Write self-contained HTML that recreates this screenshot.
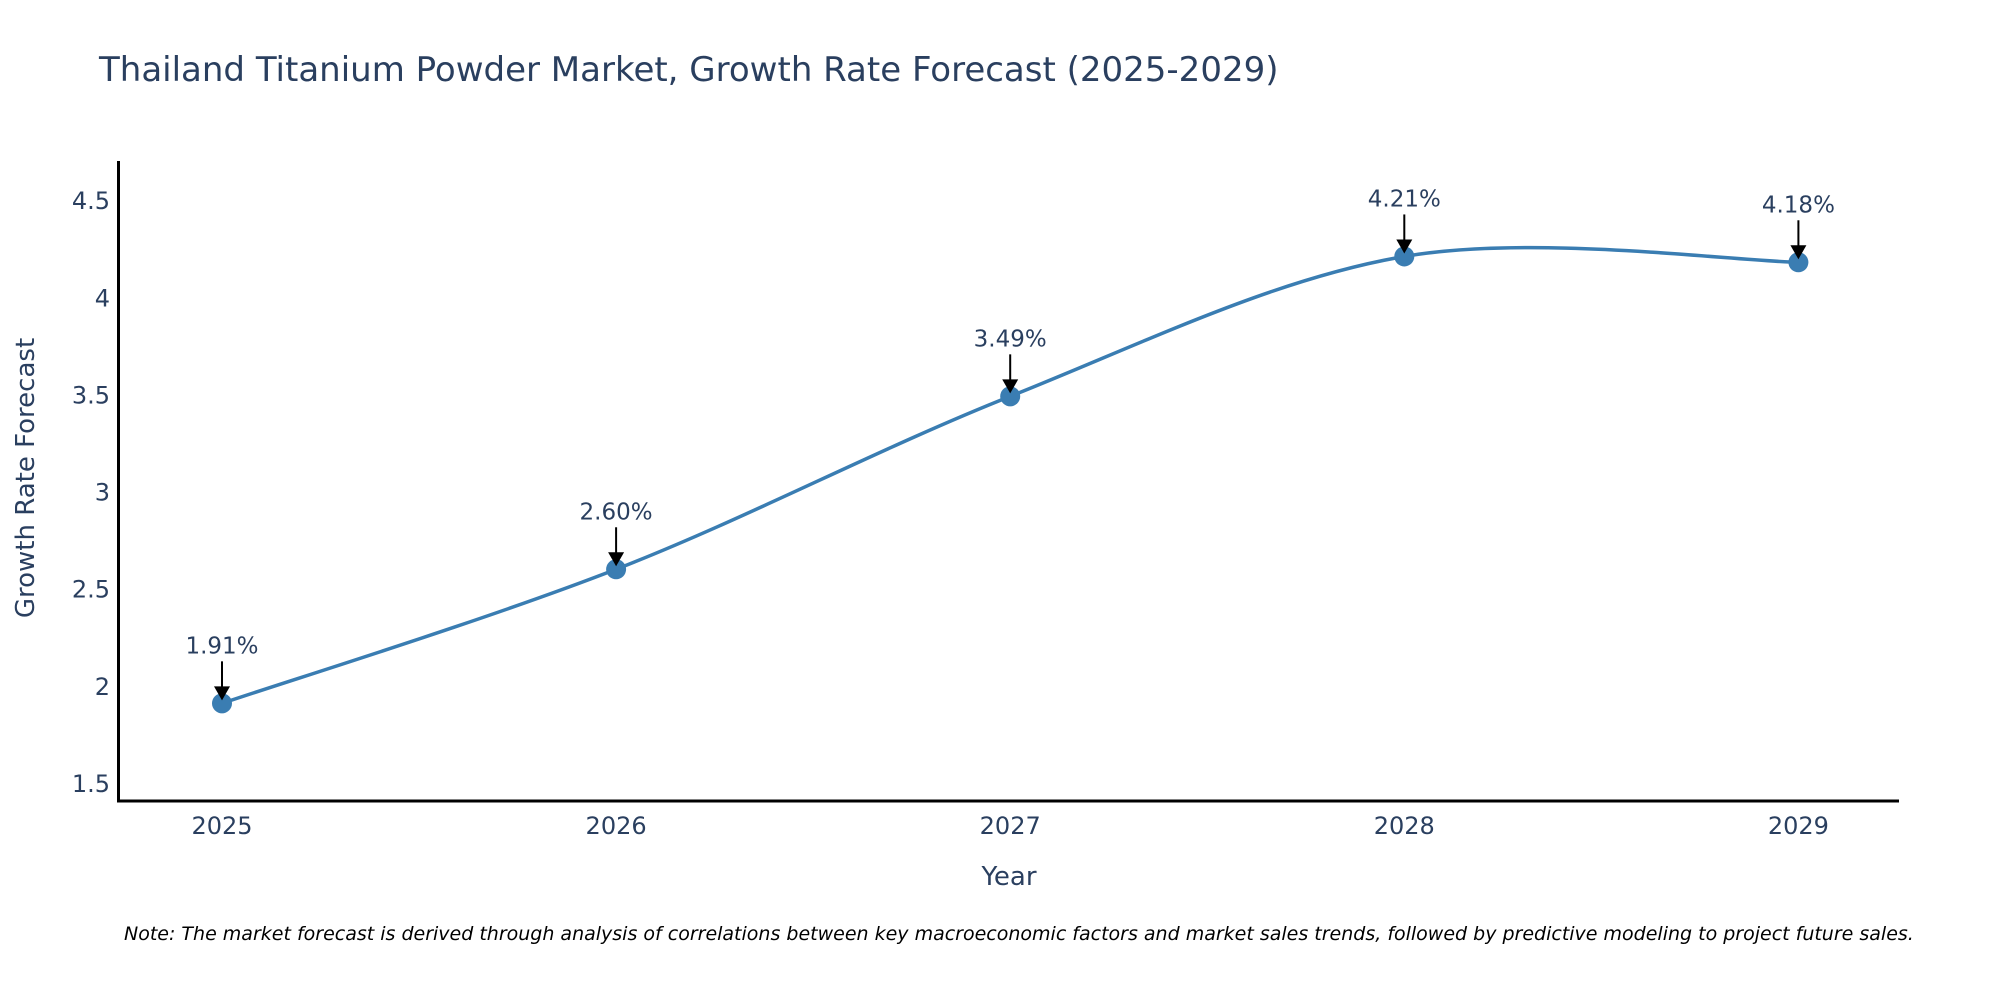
<!DOCTYPE html>
<html><head><meta charset="utf-8"><style>
body{margin:0;background:#fff;}
svg{display:block;font-family:"DejaVu Sans","Liberation Sans",sans-serif;}
</style></head><body>
<svg id="chart" width="2000" height="1000">
<text x="99" y="81" font-size="34" fill="#2a3f5f">Thailand Titanium Powder Market, Growth Rate Forecast (2025-2029)</text>
<g id="yticks"></g>
<g id="xticks"></g>
<g id="series"></g>
<g id="annots"></g>
<line x1="118.5" y1="161" x2="118.5" y2="802" stroke="#000" stroke-width="3"/>
<line x1="117" y1="801" x2="1899" y2="801" stroke="#000" stroke-width="3"/>
<text transform="translate(34,478) rotate(-90)" text-anchor="middle" font-size="26" fill="#2a3f5f">Growth Rate Forecast</text>
<text x="1009" y="885" text-anchor="middle" font-size="26" fill="#2a3f5f">Year</text>
<text x="124" y="940" font-size="19" font-style="italic" fill="#000">Note: The market forecast is derived through analysis of correlations between key macroeconomic factors and market sales trends, followed by predictive modeling to project future sales.</text>
</svg>
<script>
const years=[2025,2026,2027,2028,2029];
const growth=[1.91,2.60,3.49,4.21,4.18];
const labels=["1.91%","2.60%","3.49%","4.21%","4.18%"];
const yTicks=[1.5,2,2.5,3,3.5,4,4.5];
const yTickLabels=["1.5","2","2.5","3","3.5","4","4.5"];
const NS="http://www.w3.org/2000/svg";
function xs(v){return 222+(v-2025)*394.1;}
function ys(v){return 783-(v-1.5)*194.3;}
function mk(tag,attrs,parent){const e=document.createElementNS(NS,tag);for(const k in attrs)e.setAttribute(k,attrs[k]);parent.appendChild(e);return e;}
const yg=document.getElementById('yticks');
yTicks.forEach((t,i)=>{const e=mk('text',{x:110,y:ys(t)+9,'text-anchor':'end','font-size':24,fill:'#2a3f5f'},yg);


e.textContent=yTickLabels[i];});
const xg=document.getElementById('xticks');
years.forEach(y=>{const e=mk('text',{x:xs(y),y:834,'text-anchor':'middle','font-size':24,fill:'#2a3f5f'},xg);


e.textContent=String(y);});
const pts=years.map((y,i)=>[xs(y),ys(growth[i])]);
let d='M'+pts[0][0]+','+pts[0][1];
for(let i=0;i<pts.length-1;i++){const p0=pts[Math.max(0,i-1)],p1=pts[i],p2=pts[i+1],p3=pts[Math.min(pts.length-1,i+2)];
const c1=[p1[0]+(p2[0]-p0[0])/6,p1[1]+(p2[1]-p0[1])/6],c2=[p2[0]-(p3[0]-p1[0])/6,p2[1]-(p3[1]-p1[1])/6];
d+=' C'+c1+' '+c2+' '+p2;}
const sg=document.getElementById('series');
const line=mk('path',{d:d,fill:'none',stroke:'#3a7db2','stroke-width':3.5},sg);


const ag=document.getElementById('annots');
pts.forEach((p,i)=>{const c=mk('circle',{cx:p[0],cy:p[1],r:10,fill:'#3a7db2'},sg);


const l=mk('line',{x1:p[0],y1:p[1]-42,x2:p[0],y2:p[1]-14,stroke:'#000','stroke-width':2},ag);


const h=mk('polygon',{points:(p[0]-8)+','+(p[1]-17)+' '+(p[0]+8)+','+(p[1]-17)+' '+p[0]+','+(p[1]-3),fill:'#000'},ag);


const t=mk('text',{x:p[0],y:p[1]-50,'text-anchor':'middle','font-size':23,fill:'#2a3f5f'},ag);


t.textContent=labels[i];});
</script>
</body></html>
